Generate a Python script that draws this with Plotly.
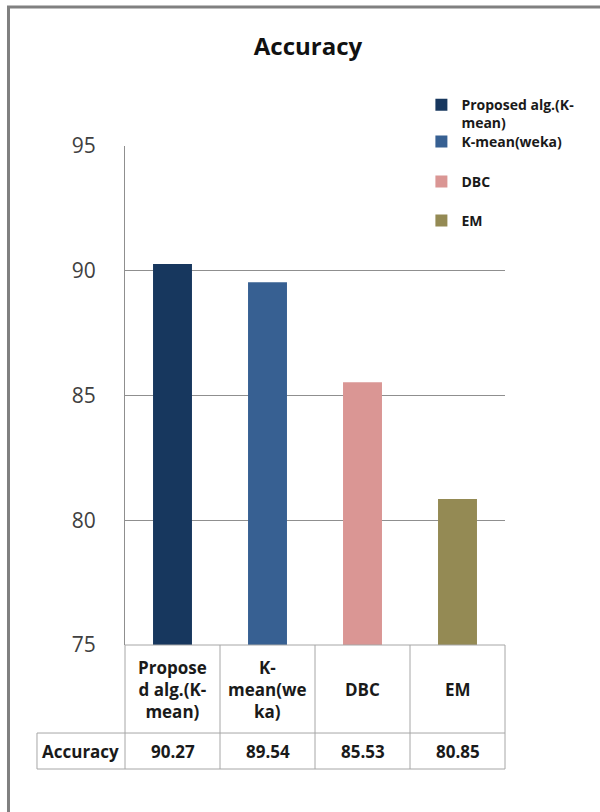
import plotly.graph_objects as go

# ---- data ----
categories = ["Proposed alg.(K-mean)", "K-mean(weka)", "DBC", "EM"]
legend_labels = ["Proposed alg.(K-<br>mean)", "K-mean(weka)", "DBC", "EM"]
header_labels = ["Propose<br>d alg.(K-<br>mean)", "K-<br>mean(we<br>ka)", "DBC", "EM"]
accuracy = [90.27, 89.54, 85.53, 80.85]
row_name = "Accuracy"
y_ticks = [75, 80, 85, 90, 95]
title_text = "Accuracy"

colors = ["#17375E", "#376092", "#DA9694", "#948A54"]
legend_ids = ["legend", "legend2", "legend3", "legend4"]

FONT = "Open Sans"
GRID = "#8f8f8f"
TABLE = "#a6a6a6"

fig = go.Figure()
for i, cat in enumerate(categories):
    fig.add_trace(go.Bar(
        x=[cat], y=[accuracy[i]], name=legend_labels[i],
        marker=dict(color=colors[i], line=dict(width=0)),
        legend=legend_ids[i], showlegend=True,
    ))

# legend item centres (paper fractions of plot height)
leg_y = [1.064, 1.008, 0.928, 0.850]
legend_layout = {}
for i, lid in enumerate(legend_ids):
    legend_layout[lid] = dict(
        x=0.78, xanchor="left", y=leg_y[i], yanchor="middle",
        bgcolor="rgba(0,0,0,0)", borderwidth=0, valign="top",
        font=dict(family=FONT, size=14, color="#1a1a1a", weight="bold"),
        itemclick=False, itemdoubleclick=False,
    )

# ---- data table beneath the plot (cell grid in axis-domain units) ----
n = len(categories)
row1_bottom = -0.1764
row2_bottom = -0.2485
head_left = -0.2316
shapes = []
line = dict(color=TABLE, width=1)
shapes.append(dict(type="line", xref="x domain", yref="y domain", x0=0, x1=1, y0=0, y1=0, line=line))
for yy in (row1_bottom, row2_bottom):
    shapes.append(dict(type="line", xref="x domain", yref="y domain", x0=head_left, x1=1, y0=yy, y1=yy, line=line))
for k in range(n + 1):
    shapes.append(dict(type="line", xref="x domain", yref="y domain", x0=k / n, x1=k / n,
                       y0=0, y1=row2_bottom, line=line))
shapes.append(dict(type="line", xref="x domain", yref="y domain", x0=head_left, x1=head_left,
                   y0=row1_bottom, y1=row2_bottom, line=line))
# outer chart border (only left/top visible in frame)
shapes.append(dict(type="rect", xref="paper", yref="paper", x0=-0.3066, x1=1.6, y0=-0.6, y1=1.2786,
                   line=dict(color="#808080", width=3), fillcolor="rgba(0,0,0,0)", layer="below"))

annotations = []
tfont = dict(family=FONT, size=17, color="#1a1a1a", weight="bold")
for i, cat in enumerate(categories):
    annotations.append(dict(x=cat, xref="x", y=row1_bottom / 2, yref="y domain",
                            text=header_labels[i], showarrow=False, font=tfont,
                            xanchor="center", yanchor="middle", align="center"))
    annotations.append(dict(x=cat, xref="x", y=(row1_bottom + row2_bottom) / 2, yref="y domain",
                            text=f"{accuracy[i]:.2f}", showarrow=False, font=tfont,
                            xanchor="center", yanchor="middle"))
annotations.append(dict(x=head_left / 2, xref="x domain", y=(row1_bottom + row2_bottom) / 2, yref="y domain",
                        text=row_name, showarrow=False, font=tfont, xanchor="center", yanchor="middle"))

fig.update_layout(
    width=600, height=812,
    margin=dict(l=125, r=95, t=146, b=167, pad=0),
    paper_bgcolor="white", plot_bgcolor="white",
    barmode="overlay", bargap=0.59,
    title=dict(text=title_text, x=0.4816, xref="paper", xanchor="center",
               y=0.943, yref="container", yanchor="middle",
               font=dict(family=FONT, size=24, color="#111111", weight="bold")),
    xaxis=dict(type="category", categoryorder="array", categoryarray=categories,
               range=[-0.5, n - 0.5], showticklabels=False, showgrid=False,
               showline=False, zeroline=False, ticks=""),
    yaxis=dict(range=[y_ticks[0], y_ticks[-1]], tickvals=y_ticks, showgrid=True,
               gridcolor=GRID, gridwidth=1, showline=True, linecolor=GRID, linewidth=1,
               zeroline=False, ticks="", ticklabelstandoff=24,
               tickfont=dict(family=FONT, size=21, color="#404040")),
    shapes=shapes, annotations=annotations,
    **legend_layout,
)

fig.write_html("out.html")
